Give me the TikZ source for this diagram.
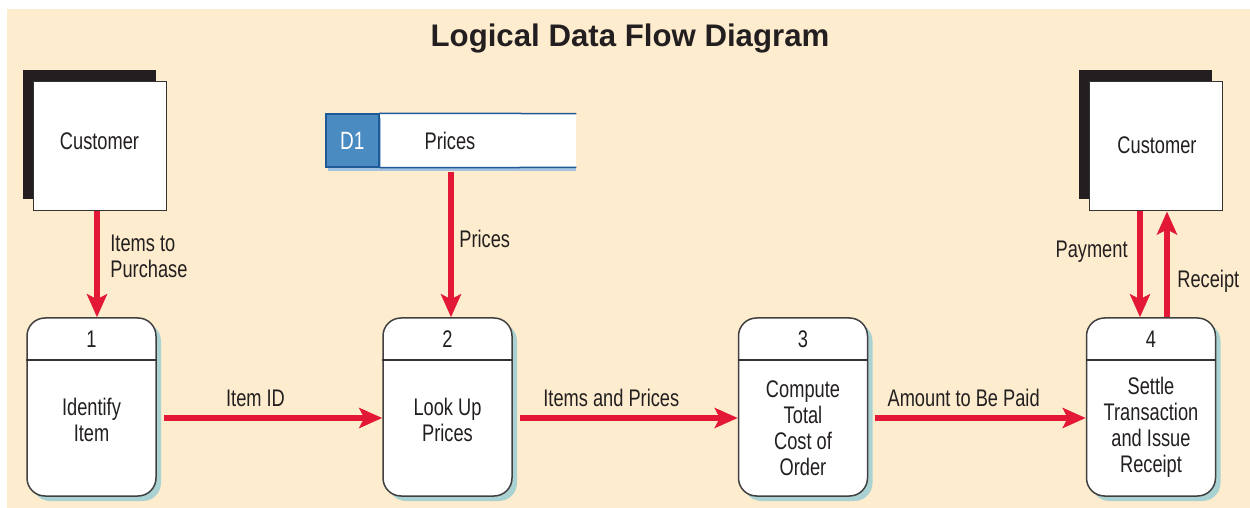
\documentclass[tikz,border=0pt]{standalone}
\usepackage{fontspec}
\setmainfont{Liberation Sans}[FakeStretch=0.76]
\newfontfamily\titlefont{Liberation Sans}
\usetikzlibrary{arrows.meta,shadows}
\definecolor{bgbeige}{HTML}{FEECCE}
\definecolor{textdark}{HTML}{231F20}
\definecolor{flowred}{HTML}{E31837}
\definecolor{procshadow}{HTML}{AAD2D2}
\definecolor{storeblue}{HTML}{4A8BC2}
\definecolor{storeline}{HTML}{1F5A96}
\definecolor{storeshadow}{HTML}{A3C3E0}
\begin{document}
\begin{tikzpicture}[x=0.5pt, y=-0.5pt,
        lbl/.style={font=\fontsize{12}{13}\selectfont, text=textdark, inner sep=0pt},
        customer/.style={draw=black!80, fill=white, line width=0.5pt, minimum width=66.5pt, minimum height=64.5pt,
            general shadow={fill=textdark, shadow xshift=-5pt, shadow yshift=6pt}},
        process/.style={draw=black!75, fill=white, line width=0.75pt, rounded corners=9pt,
            minimum width=64.5pt, minimum height=89pt, general shadow={fill=procshadow, shadow xshift=2.5pt, shadow yshift=-2.5pt}},
        split/.style={draw=black!80, line width=0.75pt},
        storeid/.style={fill=storeblue, draw=storeline, line width=0.75pt, minimum width=26.5pt, minimum height=26.5pt,
            inner sep=0pt, text=white, font=\fontsize{12.5}{13}\selectfont,
            general shadow={fill=storeshadow, shadow xshift=1pt, shadow yshift=-2pt}},
        storename/.style={fill=white, minimum width=98pt, minimum height=26.5pt, inner sep=0pt,
            general shadow={fill=storeshadow, shadow xshift=0pt, shadow yshift=-2pt}},
        flow/.style={draw=flowred, line width=3pt, -{Stealth[length=11.5pt, width=10pt, inset=2.5pt]}}
    ]
        \useasboundingbox (0,0) rectangle (1250,508);
        \fill[bgbeige] (7,9) rectangle (1250,508);

        % Title
        \node[font=\titlefont\bfseries\fontsize{15.6}{18}\selectfont, text=textdark, anchor=base] (title) at (630, 47) {Logical Data Flow Diagram};

        % External entities
        \node[customer] (cust1) at (99.5, 146.5) {};
        \node[lbl] (cust1txt) at (99.5, 141) {Customer};
        \node[customer] (cust2) at (1155.5, 146.5) {};
        \node[lbl] (cust2txt) at (1157, 145) {Customer};

        % Data store D1
        \node[storename] (d1) at (478, 140.5) {};
        \node[storeid, anchor=east] (d1id) at (d1.west) {D1};
        \draw[storeline, line width=0.75pt] (d1id.north east) -- (d1.north east);
        \draw[storeline, line width=0.75pt] (d1id.south east) -- (d1.south east);
        \node[lbl] (d1txt) at (450, 140.5) {Prices};

        % Processes
        \foreach \n/\x/\ty/\txt in {1/91.5/420/{Identify\\Item}, 2/447.5/420/{Look Up\\Prices},
                3/803/428/{Compute\\Total\\Cost of\\Order}, 4/1151/427.5/{Settle\\Transaction\\and Issue\\Receipt}} {
            \node[process] (p\n) at (\x, 407) {};
            \draw[split] ([yshift=-21.5pt]p\n.north west) -- ([yshift=-21.5pt]p\n.north east);
            \node[lbl] (num\n) at ([yshift=-11pt]p\n.north) {\n};
            \node[lbl, align=center] (txt\n) at (\x, \ty) {\txt};
        }

        % Flows in from the top
        \draw[flow] ([xshift=2.75pt]p1.north |- cust1.south) -- ([xshift=2.75pt]p1.north);
        \node[lbl, anchor=west, align=left] (lblitems) at (110, 256) {Items to\\Purchase};
        \draw[flow] ([xshift=1.75pt, yshift=-2.5pt]p2.north |- d1.south) -- ([xshift=1.75pt]p2.north);
        \node[lbl, anchor=west] (lblprices) at (459, 239) {Prices};
        \draw[flow] ([xshift=-5.5pt]p4.north |- cust2.south) -- ([xshift=-5.5pt]p4.north);
        \node[lbl, anchor=east] (lblpay) at (1128, 252) {Payment};
        \draw[flow] ([xshift=8pt]p4.north) -- ([xshift=8pt]p4.north |- cust2.south);
        \node[lbl, anchor=west] (lblrec) at (1177, 281) {Receipt};

        % Flows between processes
        \draw[flow] ([xshift=3.5pt, yshift=-5.5pt]p1.east) -- node[lbl, pos=0.42, yshift=10pt] {Item ID} ([yshift=-5.5pt]p2.west);
        \draw[flow] ([xshift=3.5pt, yshift=-5.5pt]p2.east) -- node[lbl, pos=0.42, yshift=10pt] {Items and Prices} ([yshift=-5.5pt]p3.west);
        \draw[flow] ([xshift=3.5pt, yshift=-5.5pt]p3.east) -- node[lbl, pos=0.42, yshift=10pt] {Amount to Be Paid} ([yshift=-5.5pt]p4.west);
    \end{tikzpicture}
\end{document}
